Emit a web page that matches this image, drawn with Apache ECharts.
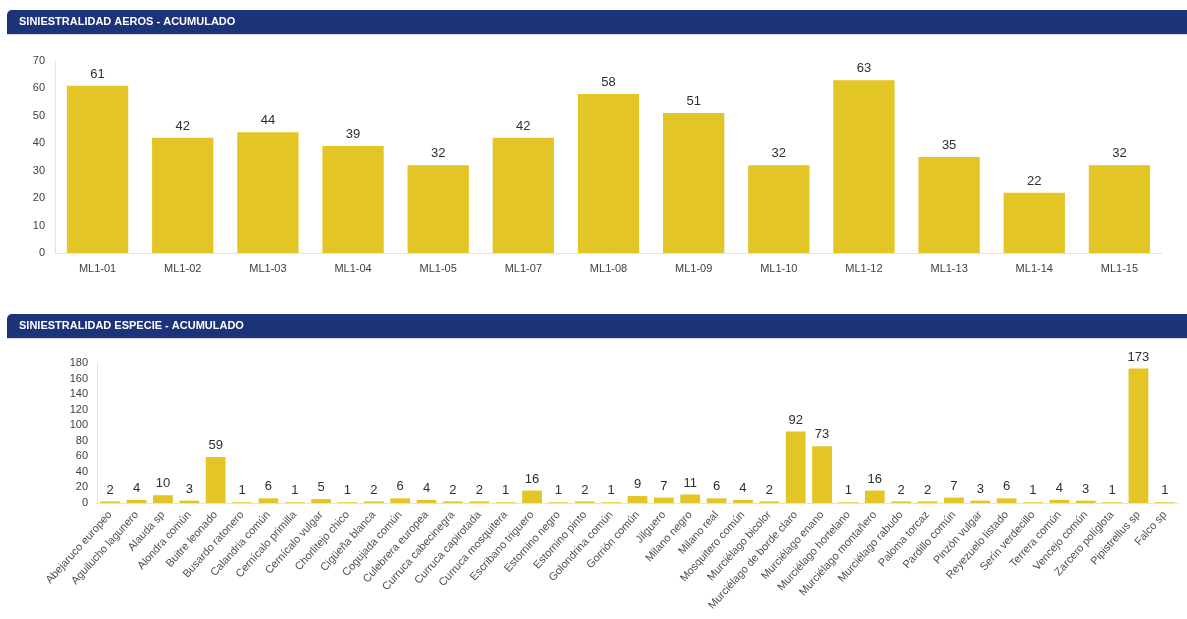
<!DOCTYPE html>
<html>
<head>
<meta charset="utf-8">
<script src="https://cdn.jsdelivr.net/npm/echarts@6/dist/echarts.min.js"></script>
<style>
html,body{margin:0;padding:0;background:#fff;}
#c{width:1187px;height:619px;}
</style>
</head>
<body>
<div id="c"></div>
<script>
const titleAeros = 'SINIESTRALIDAD AEROS - ACUMULADO';
const titleEspecie = 'SINIESTRALIDAD ESPECIE - ACUMULADO';

const aeroCategories = ['ML1-01','ML1-02','ML1-03','ML1-04','ML1-05','ML1-07','ML1-08','ML1-09','ML1-10','ML1-12','ML1-13','ML1-14','ML1-15'];
const aeroValues = [61,42,44,39,32,42,58,51,32,63,35,22,32];

const speciesCategories = ['Abejaruco europeo','Aguilucho lagunero','Alauda sp','Alondra común','Buitre leonado','Busardo ratonero','Calandria común','Cernícalo primilla','Cernícalo vulgar','Chorlitejo chico','Cigüeña blanca','Cogujada común','Culebrera europea','Curruca cabecinegra','Curruca capirotada','Curruca mosquitera','Escribano triguero','Estornino negro','Estornino pinto','Golondrina común','Gorrión común','Jilguero','Milano negro','Milano real','Mosquitero común','Murciélago bicolor','Murciélago de borde claro','Murciélago enano','Murciélago hortelano','Murciélago montañero','Murciélago rabudo','Paloma torcaz','Pardillo común','Pinzón vulgar','Reyezuelo listado','Serín verdecillo','Terrera común','Vencejo común','Zarcero políglota','Pipistrellus sp','Falco sp'];
const speciesValues = [2,4,10,3,59,1,6,1,5,1,2,6,4,2,2,1,16,1,2,1,9,7,11,6,4,2,92,73,1,16,2,2,7,3,6,1,4,3,1,173,1];

const aeroTicks = {min:0, max:70, interval:10};
const speciesTicks = {min:0, max:180, interval:20};

const BAR = '#E3C526';
const NAVY = '#1C3279';
const FONT = '"Liberation Sans", Arial, sans-serif';

const chart = echarts.init(document.getElementById('c'), null, {renderer:'canvas'});

function header(y, text){
  return [
    {type:'rect', shape:{x:7, y:y, width:1180, height:24, r:[5,0,0,0]}, style:{fill:NAVY}, z:10},
    {type:'line', shape:{x1:7, y1:y+24.5, x2:1187, y2:y+24.5}, style:{stroke:'#d6d9e2', lineWidth:1}, z:10},
    {type:'text', x:19, y:y+12, style:{text:text, fill:'#fff', font:'bold 11px ' + FONT, textVerticalAlign:'middle', textBaseline:'middle'}, z:11}
  ];
}

const axisLineStyle = {show:true, lineStyle:{color:'#e3e3e3', width:1}};

chart.setOption({
  animation:false,
  textStyle:{fontFamily:FONT},
  graphic: header(10, titleAeros).concat(header(314, titleEspecie)),
  grid:[
    {left:55, right:25, top:61, height:192, containLabel:false},
    {left:97, right:9, top:363, height:140, containLabel:false}
  ],
  xAxis:[
    {type:'category', gridIndex:0, data:aeroCategories,
     axisLine:axisLineStyle, axisTick:{show:false},
     axisLabel:{color:'#404040', fontSize:11, margin:10, fontFamily:FONT}},
    {type:'category', gridIndex:1, data:speciesCategories,
     axisLine:axisLineStyle, axisTick:{show:false},
     axisLabel:{color:'#505050', fontSize:11, margin:10, rotate:48, interval:0, fontFamily:FONT}}
  ],
  yAxis:[
    {type:'value', gridIndex:0, min:aeroTicks.min, max:aeroTicks.max, interval:aeroTicks.interval,
     axisLine:axisLineStyle, axisTick:{show:false}, splitLine:{show:false},
     axisLabel:{color:'#404040', fontSize:11, margin:10, fontFamily:FONT}},
    {type:'value', gridIndex:1, min:speciesTicks.min, max:speciesTicks.max, interval:speciesTicks.interval,
     axisLine:axisLineStyle, axisTick:{show:false}, splitLine:{show:false},
     axisLabel:{color:'#404040', fontSize:11, margin:9, fontFamily:FONT}}
  ],
  series:[
    {type:'bar', xAxisIndex:0, yAxisIndex:0, data:aeroValues, barWidth:'72%',
     itemStyle:{color:BAR},
     label:{show:true, position:'top', distance:5, color:'#2e2e2e', fontSize:13, fontFamily:FONT}},
    {type:'bar', xAxisIndex:1, yAxisIndex:1, data:speciesValues, barWidth:'75%',
     itemStyle:{color:BAR},
     label:{show:true, position:'top', distance:5, color:'#2e2e2e', fontSize:13, fontFamily:FONT}}
  ]
});
</script>
</body>
</html>
